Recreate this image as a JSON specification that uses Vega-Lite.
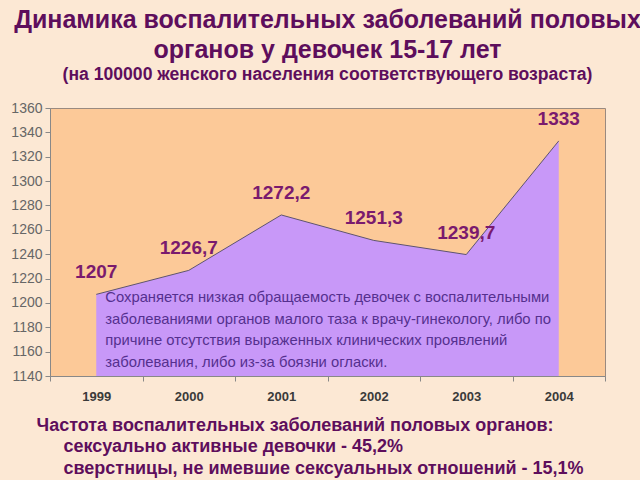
{
  "$schema": "https://vega.github.io/schema/vega-lite/v6.json",
  "width": 555,
  "height": 268,
  "autosize": {"type": "none"},
  "padding": {"left": 50, "top": 108, "right": 35, "bottom": 104},
  "background": "#FCE8D4",
  "config": {
    "font": "Liberation Sans",
    "locale": {"number": {"decimal": ",", "thousands": "", "grouping": [3], "currency": ["", ""]}},
    "view": {"fill": "#FCC998", "stroke": "#9A8A80", "strokeWidth": 1}
  },
  "title": {
    "text": ["Динамика воспалительных заболеваний половых", "органов у девочек 15-17 лет"],
    "subtitle": "(на 100000 женского населения соответствующего возраста)",
    "anchor": "middle",
    "dx": 0,
    "offset": 17,
    "font": "Liberation Sans",
    "fontSize": 25,
    "fontWeight": "bold",
    "color": "#5E0E5C",
    "lineHeight": 30,
    "subtitleFont": "Liberation Sans",
    "subtitleFontSize": 17.6,
    "subtitleFontWeight": "bold",
    "subtitleColor": "#5E0E5C",
    "subtitlePadding": 3
  },
  "datasets": {
    "main": [
      {"year": "1999", "value": 1207},
      {"year": "2000", "value": 1226.7},
      {"year": "2001", "value": 1272.2},
      {"year": "2002", "value": 1251.3},
      {"year": "2003", "value": 1239.7},
      {"year": "2004", "value": 1333}
    ],
    "note": [
      {"year": "1999", "value": 1204, "lines": [
        "Сохраняется низкая обращаемость девочек с воспалительными",
        "заболеваниями органов малого таза к врачу-гинекологу,  либо по",
        "причине отсутствия выраженных клинических проявлений",
        "заболевания, либо из-за боязни огласки."
      ]}
    ]
  },
  "encoding": {
    "x": {
      "field": "year",
      "type": "ordinal",
      "scale": {"type": "band", "paddingInner": 0, "paddingOuter": 0},
      "bandPosition": 0.5,
      "axis": {
        "labelAngle": 0,
        "labelFont": "Liberation Sans",
        "labelFontSize": 13,
        "labelFontWeight": "bold",
        "labelColor": "#3A3A3A",
        "labelPadding": 9,
        "tickBand": "extent",
        "tickColor": "#888888",
        "tickSize": 5,
        "domainColor": "#888888",
        "title": [
          "Частота воспалительных заболеваний половых органов:",
          "\u200b\u2002\u2002\u2002сексуально активные девочки - 45,2%",
          "\u200b\u2002\u2002\u2002сверстницы, не имевшие сексуальных отношений - 15,1%"
        ],
        "titleFont": "Liberation Sans",
        "titleFontSize": 18,
        "titleFontWeight": "bold",
        "titleColor": "#5E0E5C",
        "titleAnchor": "start",
        "titleAlign": "left",
        "titleBaseline": "top",
        "titleX": -14,
        "titleY": 40,
        "titleLineHeight": 21.5
      }
    },
    "y": {
      "field": "value",
      "type": "quantitative",
      "scale": {"domain": [1140, 1360], "zero": false, "nice": false},
      "axis": {
        "title": null,
        "grid": false,
        "values": [1140, 1160, 1180, 1200, 1220, 1240, 1260, 1280, 1300, 1320, 1340, 1360],
        "format": "d",
        "labelFont": "Liberation Sans",
        "labelFontSize": 14,
        "labelColor": "#666666",
        "labelPadding": 3,
        "tickColor": "#888888",
        "tickSize": 5,
        "domainColor": "#888888"
      }
    }
  },
  "layer": [
    {
      "data": {"name": "main"},
      "mark": {"type": "area", "color": "#C898F8", "opacity": 1, "line": {"color": "#5E5470", "strokeWidth": 1}},
      "encoding": {"y2": {"datum": 1140}}
    },
    {
      "data": {"name": "main"},
      "mark": {"type": "text", "dy": -22, "font": "Liberation Sans", "fontSize": 19, "fontWeight": "bold", "color": "#7A1A6E"},
      "encoding": {"text": {"field": "value", "type": "quantitative", "format": ".1~f"}}
    },
    {
      "data": {"name": "note"},
      "mark": {"type": "text", "align": "left", "baseline": "middle", "xOffset": 9, "font": "Liberation Sans", "fontSize": 14.8, "lineHeight": 21.5, "color": "#55308F"},
      "encoding": {"text": {"field": "lines"}}
    }
  ]
}
